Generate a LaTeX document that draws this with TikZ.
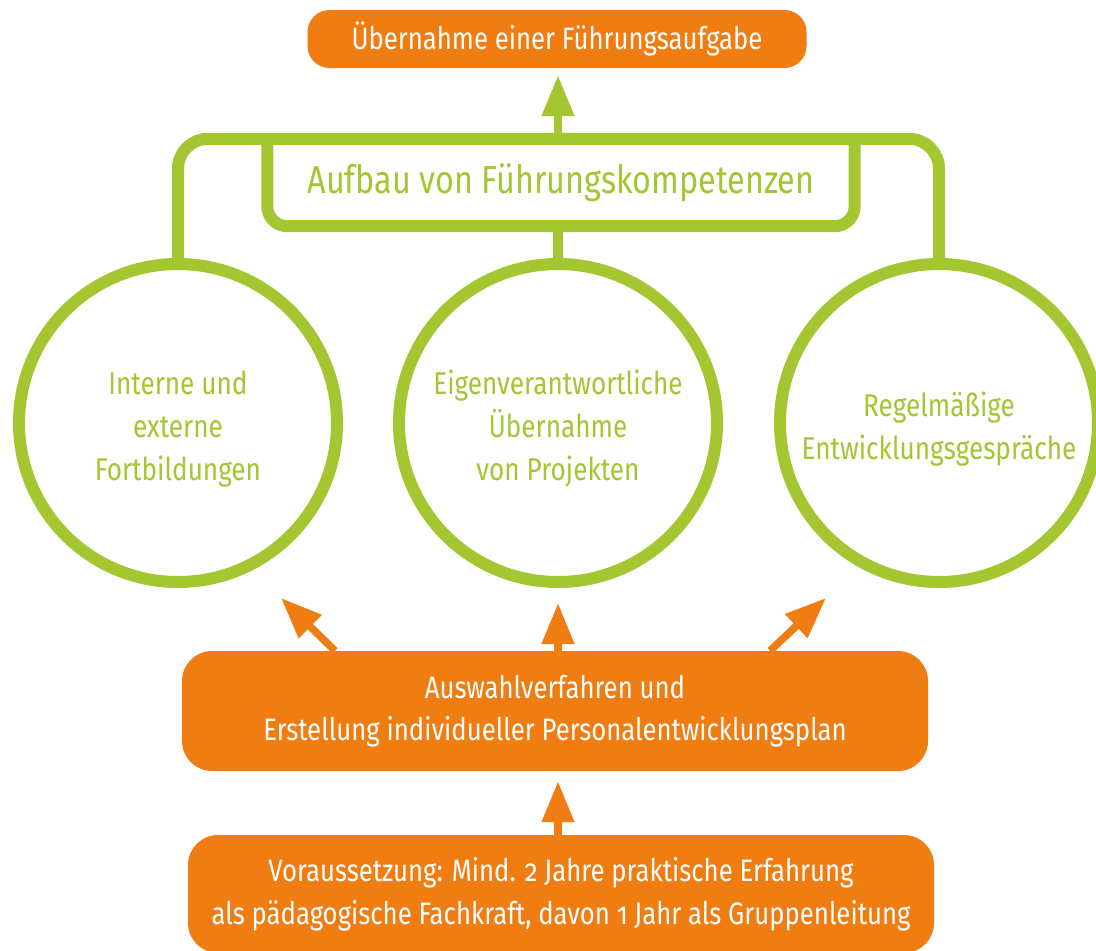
\documentclass[tikz,border=0pt]{standalone}
\usepackage{fontspec}
\setmainfont{Fira Sans}[Numbers=OldStyle, FakeStretch=0.83]
\usetikzlibrary{arrows.meta}
\definecolor{org}{HTML}{EF7D12}
\definecolor{grn}{HTML}{A3C631}
\tikzset{
  obox/.style={fill=org, draw=none, text=white, align=center, rounded corners=#1, inner sep=0pt},
  ring/.style={circle, draw=grn, line width=12pt, minimum size=318pt, inner sep=0pt},
  ringtext/.style={text=grn, align=center, yshift=-6pt, font=\fontsize{31.5}{43}\selectfont},
  gline/.style={draw=grn, line width=12pt},
  garr/.style={draw=grn, line width=7.5pt, -{Triangle[width=31pt,length=41pt]}},
  oarr/.style={draw=org, line width=7.5pt, -{Triangle[width=31pt,length=41pt]}}
}
\begin{document}
\begin{tikzpicture}[x=1pt,y=-1pt]
\clip (0,0) rectangle (1096,951);
\fill[white] (0,0) rectangle (1096,951);
% top box
\node[obox=22pt, minimum width=499pt, minimum height=58pt, font=\fontsize{31}{40}\selectfont] (top) at (557,39) {Übernahme einer Führungsaufgabe};
% circles
\node[ring, label={[ringtext]center:Interne und\\externe\\Fortbildungen}] (c1) at (178,423) {};
\node[ring, label={[ringtext]center:Eigenverantwortliche\\Übernahme\\von Projekten}] (c2) at (558,423) {};
\node[ring, label={[ringtext]center:Regelmäßige\\Entwicklungsgespräche}] (c3) at (939,423) {};
% inner box
\node[minimum width=587pt, minimum height=87pt, inner sep=0pt, text=grn, font=\fontsize{39}{46}\selectfont] (aufbau) at (561,182.5) {Aufbau von Führungskompetenzen};
\draw[gline, rounded corners=30pt] (c1.north) -- (c1.north |- aufbau.north) -- (c3.north |- aufbau.north) -- (c3.north);
\draw[gline, rounded corners=20pt] (aufbau.north west) -- (aufbau.south west) -- (aufbau.south east) -- (aufbau.north east);
\draw[draw=grn, line width=10pt] (c2.north |- aufbau.south) -- (c2.north);
\draw[garr, shorten >=7pt] (c2.north |- aufbau.north) -- (c2.north |- top.south);
% orange boxes
\node[obox=30pt, minimum width=746pt, minimum height=120pt, font=\fontsize{31}{42}\selectfont] (auswahl) at (555,711) {Auswahlverfahren und\\Erstellung individueller Personalentwicklungsplan};
\node[obox=30pt, minimum width=746pt, minimum height=118pt, font=\fontsize{31}{43}\selectfont] (voraus) at (561,894) {Voraussetzung: Mind. 2 Jahre praktische Erfahrung\\als pädagogische Fachkraft, davon 1 Jahr als Gruppenleitung};
% orange arrows
\coordinate (tl) at (281,598);
\coordinate (tr) at (826,598);
\draw[oarr] ([xshift=-220pt]auswahl.north) -- (tl);
\draw[oarr] ([xshift=215pt]auswahl.north) -- (tr);
\draw[oarr, shorten >=15pt] (auswahl.north -| c2.south) -- (c2.south);
\draw[oarr, shorten >=10pt] (voraus.north -| c2.south) -- (auswahl.south -| c2.south);
\end{tikzpicture}
\end{document}
